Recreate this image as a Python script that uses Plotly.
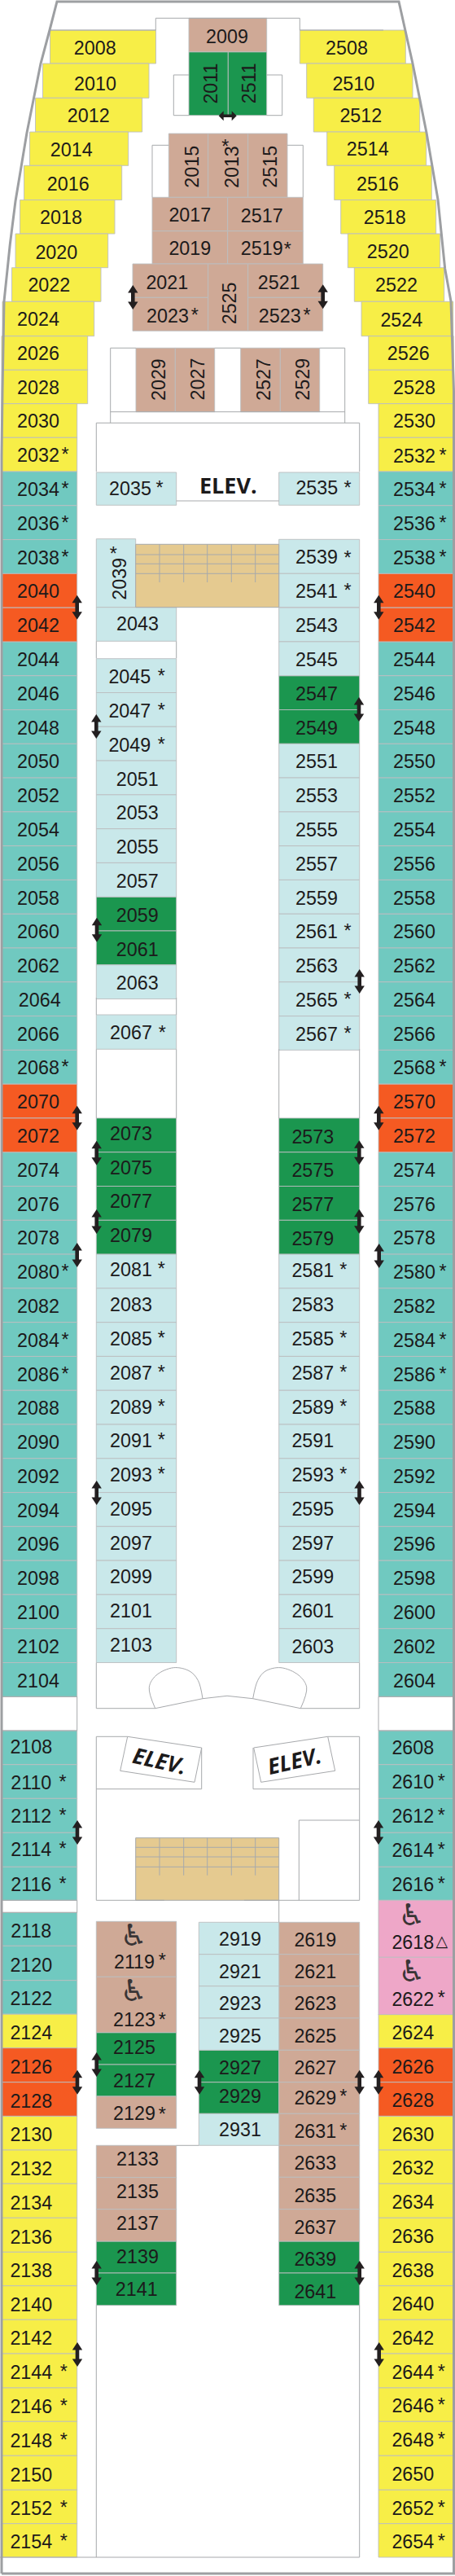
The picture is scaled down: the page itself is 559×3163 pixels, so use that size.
import plotly.graph_objects as go

# ---------- DATA: cabin numbers by fare category ----------
YELLOW = [2008,2010,2012,2014,2016,2018,2020,2022,2024,2026,2028,2030,2032,2124,2130,2132,2134,2136,2138,2140,2142,2144,2146,2148,2150,2152,2154,
          2508,2510,2512,2514,2516,2518,2520,2522,2524,2526,2528,2530,2532,2624,2630,2632,2634,2636,2638,2640,2642,2644,2646,2648,2650,2652,2654]
TEAL = [2034,2036,2038,2044,2046,2048,2050,2052,2054,2056,2058,2060,2062,2064,2066,2068,2074,2076,2078,2080,2082,2084,2086,2088,2090,2092,2094,2096,2098,2100,2102,2104,
        2108,2110,2112,2114,2116,2118,2120,2122,
        2534,2536,2538,2544,2546,2548,2550,2552,2554,2556,2558,2560,2562,2564,2566,2568,2574,2576,2578,2580,2582,2584,2586,2588,2590,2592,2594,2596,2598,2600,2602,2604,
        2608,2610,2612,2614,2616]
ORANGE = [2040,2042,2070,2072,2126,2128,2540,2542,2570,2572,2626,2628]
PINK = [2618,2622]
GREEN = [2011,2511,2059,2061,2073,2075,2077,2079,2125,2127,2139,2141,2547,2549,2573,2575,2577,2579,2927,2929,2639,2641]
TAN = [2009,2013,2015,2515,2017,2517,2019,2519,2021,2023,2521,2523,2525,2027,2029,2527,2529,2119,2123,2129,2133,2135,2137,
       2619,2621,2623,2625,2627,2629,2631,2633,2635,2637]
CYAN = [2035,2039,2043,2045,2047,2049,2051,2053,2055,2057,2063,2067,2081,2083,2085,2087,2089,2091,2093,2095,2097,2099,2101,2103,
        2535,2539,2541,2543,2545,2551,2553,2555,2557,2559,2561,2563,2565,2567,2581,2583,2585,2587,2589,2591,2593,2595,2597,2599,2601,2603,
        2919,2921,2923,2925,2931]
STARRED = [2013,2023,2032,2034,2035,2036,2038,2039,2045,2047,2049,2067,2068,2080,2081,2084,2085,2086,2087,2089,2091,2093,2110,2112,2114,2116,2119,2123,2129,2144,2146,2148,2152,2154,
           2519,2523,2532,2534,2535,2536,2538,2539,2541,2561,2565,2567,2568,2580,2581,2584,2585,2586,2587,2589,2593,2610,2612,2614,2616,2622,2629,2631,2644,2646,2648,2652,2654]
ACCESSIBLE = [2119,2123,2618,2622]
ROTATED = [2011,2511,2013,2015,2515,2525,2027,2029,2527,2529,2039]
COLORS = {"Y":"#f7ee47","T":"#70c9c0","O":"#f55a22","P":"#eea7c8","G":"#1b964f","B":"#cfa996","C":"#c9e8ea"}
INK = "#1c1a1b"
BORDER = "#bbbdbf"
WALL = "#a7a9ac"
HULL = "#9d9fa2"
cat = {}
for k, arr in zip("YTOPGBC", [YELLOW, TEAL, ORANGE, PINK, GREEN, TAN, CYAN]):
    for n in arr:
        cat[n] = k

# ---------- LAYOUT: cell extents and label anchors in page units ----------
cells = {}
def cell(n, x0, x1, y0, y1, tx, ty, sx=None, sy=None):
    cells[n] = dict(x0=x0, x1=x1, y0=y0, y1=y1, tx=tx, ty=ty, sx=sx, sy=sy if sy is not None else ty - 7)

# forward staggered rows, port then starboard
fwd_y = [37,78,120.3,162,203.3,245.5,287,328.7,370.3,412.7,454.3,495.7,537.3,579]
fwd_p = [(2008,61.5,191.5,116.7,60.7),(2010,52.5,183,117,104.7),(2012,43.5,174.7,108.7,144.3),(2014,36.5,157.7,87.7,186),
         (2016,29.5,149.7,83.7,227.7),(2018,24.5,141,75,269.3),(2020,19,132.7,69.3,311.7),(2022,14.5,124,60.3,352.3),
         (2024,3,115.7,47,394.3),(2026,2,107.7,47,436.3),(2028,2,107.7,47,478.3),(2030,2,94.7,47,519.3),(2032,2,94.7,47,561)]
fwd_s = [(2508,368.3,498.3,426,60.7),(2510,376.7,507,434.3,104.7),(2512,385.3,515.7,443.3,144.3),(2514,401.7,523.7,451.7,185.3),
         (2516,410.7,530.3,464,227.7),(2518,418.7,535.7,472.7,269.3),(2520,427.3,540.7,476.7,311.3),(2522,435.3,545.7,487,352.3),
         (2524,444,556.7,493.3,394.7),(2526,452.7,557.3,501.7,436),(2528,452.7,557.3,509,478),(2530,465,557.3,509,519.3),(2532,465,557.3,509,562.3)]
for i, r in enumerate(fwd_p):
    cell(r[0], r[1], r[2], fwd_y[i], fwd_y[i+1], r[3], r[4], 80)
for i, r in enumerate(fwd_s):
    cell(r[0], r[1], r[2], fwd_y[i], fwd_y[i+1], r[3], r[4], 544)

# the regular row grid
E = [579 + 41.786*i for i in range(40)]
OUTER_P = [2034,2036,2038,2040,2042,2044,2046,2048,2050,2052,2054,2056,2058,2060,2062,2064,2066,2068,2070,2072,2074,2076,2078,2080,2082,2084,2086,2088,2090,2092,2094,2096,2098,2100,2102,2104]
OUTER_S = [2534,2536,2538,2540,2542,2544,2546,2548,2550,2552,2554,2556,2558,2560,2562,2564,2566,2568,2570,2572,2574,2576,2578,2580,2582,2584,2586,2588,2590,2592,2594,2596,2598,2600,2602,2604]
for i, n in enumerate(OUTER_P):
    cell(n, 2, 94.7, E[i], E[i+1], 48.7 if n == 2064 else 47, E[i+1]-17.5, 80)
for i, n in enumerate(OUTER_S):
    cell(n, 465, 557.3, E[i], E[i+1], 509, E[i+1]-17.5, 544)

aft_y1 = [2125,2166.7,2208.3,2250.3,2292.3,2333.3]
for i, n in enumerate([2108,2110,2112,2114,2116]):
    cell(n, 2, 94.7, aft_y1[i], aft_y1[i+1], 38.3, [2146.7,2190.7,2231.7,2272.7,2315.7][i], 77)
    m = n + 500
    cell(m, 465, 557.3, aft_y1[i], aft_y1[i+1], 507.3, [2148.3,2190,2232,2273.7,2315.7][i], 542.3)
aft_y2 = [2348.3,2389.3,2431.7,2473,2514.7,2556.7,2598.3,2640,2681.3,2723.3,2765.3,2806.7,2848.3,2890,2932,2973.3,3015.3,3057.3,3098.7,3140]
for i, n in enumerate([2118,2120,2122,2124,2126,2128,2130,2132,2134,2136,2138,2140,2142,2144,2146,2148,2150,2152,2154]):
    cell(n, 2, 94.7, aft_y2[i], aft_y2[i+1], 38.3, aft_y2[i+1]-16.5, 78.3)
cell(2618, 465, 557.3, 2333.3, 2403.3, 507.3, 2386.7)
cell(2622, 465, 557.3, 2403.3, 2473.7, 507.3, 2456.7, 542.3, 2449)
for i, n in enumerate([2624,2626,2628,2630,2632,2634,2636,2638,2640,2642,2644,2646,2648,2650,2652,2654]):
    cell(n, 465, 557.3, aft_y2[i+3], aft_y2[i+4], 507.3, aft_y2[i+4]-16.7, 542.3)

# bow block
cell(2009,232,327.7,22.3,63.7,279,46.7)
cell(2011,232,280.3,63.7,141.7,259.3,102.3)
cell(2511,280.3,327.7,63.7,141.7,306,102.3)
cell(2015,207.3,255.7,164,242.3,235.7,205)
cell(2013,255.7,304.7,164,242.3,285,205,276.7,175.7)
cell(2515,304.7,353,164,242.3,331.7,205)
cell(2017,187,279.7,242.3,283.7,233.3,265.7)
cell(2517,279.7,372.3,242.3,283.7,321.7,266.7)
cell(2019,187,279.7,283.7,324,233.3,306.7)
cell(2519,279.7,372.3,283.7,324,321.7,306.7,353.3,301.7)
cell(2021,163,255.7,324,365.3,205.3,349)
cell(2023,163,255.7,365.3,406.3,206,390,239.3,383)
cell(2525,255.7,304.7,324,406.3,282,372.3)
cell(2521,304.7,396.7,324,365.3,342.7,349)
cell(2523,304.7,396.7,365.3,406.3,343.7,390,377,383)
cell(2029,167,215.3,427.3,505.7,194.3,465.7)
cell(2027,215.3,263.7,427.3,505.7,242.7,465.7)
cell(2527,295.7,344.3,427.3,505.7,323.3,465.7)
cell(2529,344.3,392.7,427.3,505.7,372,465.7)

# inner port column
L0, L1, R0, R1 = 118.3, 216.7, 342.7, 441.7
cell(2035,L0,L1,580,620.3,160,602.3,196,595)
cell(2039,L0,166.7,661.7,745.7,146.7,711,139.3,676)
cell(2043,L0,L1,745.7,787.3,169,768.3)
for i, n in enumerate([2045,2047,2049,2051,2053,2055,2057,2059,2061,2063]):
    cell(n, L0, L1, E[6+i]-21, E[7+i]-21, 159.3 if n < 2051 else 168.7, E[7+i]-21-17, 198.3)
cell(2067,L0,L1,1246,1288.3,161,1270,199.3,1264)
for i, n in enumerate([2073,2075,2077,2079,2081,2083,2085,2087,2089,2091,2093,2095,2097,2099,2101,2103]):
    off = 20.8 if n <= 2081 else 19.3
    cell(n, L0, L1, E[19+i], E[20+i], 161, E[20+i]-off, 198.3)
# inner starboard column
cell(2535,R0,R1,580,620.3,389.3,601.3,427,595)
cell(2539,R0,R1,662.3,704.3,389,686,427,681)
cell(2541,R0,R1,704.3,745.7,389,728.3,427,721)
for i, n in enumerate([2543,2545,2547,2549,2551,2553,2555,2557,2559,2561,2563,2565,2567]):
    cell(n, R0, R1, E[4+i], E[5+i], 389, E[5+i]-17.5, 427)
for i, n in enumerate([2573,2575,2577,2579,2581,2583,2585,2587,2589,2591,2593,2595,2597,2599,2601,2603]):
    off = 17 if n <= 2579 or n == 2603 else 19.3
    cell(n, R0, R1, E[19+i], E[20+i], 384.3, E[20+i]-off, 421.7)
# aft inner blocks
cell(2119,L0,L1,2359.3,2427.3,165,2411,199.3,2403.3)
cell(2123,L0,L1,2427.3,2495.7,165,2481.7,199.3,2476)
cell(2125,L0,L1,2495.7,2535,165,2516)
cell(2127,L0,L1,2535,2574,165,2557.3)
cell(2129,L0,L1,2574,2613.3,165,2597.3,199.3,2591.7)
cell(2133,L0,L1,2634.3,2673.7,169,2653.3)
cell(2135,L0,L1,2673.7,2712.7,169,2693.3)
cell(2137,L0,L1,2712.7,2752,169,2732.3)
cell(2139,L0,L1,2752,2791,169,2773.3)
cell(2141,L0,L1,2791,2830.7,167.7,2812.7)
mid_y = [2360.3,2399.7,2438.7,2478,2517.3,2556.7,2595.3,2634.3]
mid_t = [2383.3,2422.7,2462.3,2501.7,2540.7,2575.7,2616.7]
for i, n in enumerate([2919,2921,2923,2925,2927,2929,2931]):
    cell(n, 244.3, R0, mid_y[i], mid_y[i+1], 295, mid_t[i])
sb_y = mid_y + [2673.3,2712.7,2752,2791,2830.7]
sb_t = [2384.3,2423.3,2462.3,2501.7,2541,2577.7,2619.3,2658.3,2697.7,2736.7,2776,2815.7]
for i, n in enumerate([2619,2621,2623,2625,2627,2629,2631,2633,2635,2637,2639,2641]):
    cell(n, R0, R1, sb_y[i], sb_y[i+1], 387.3, sb_t[i], 421.7, sb_t[i]-7.5)

WHEEL_POS = {2119:(164.3,2380),2123:(164.3,2447.3),2618:(506,2355),2622:(506,2424)}
STAIR_BOXES = [(166.7,342.7,668.3,745.7),(166.7,342.7,2256.7,2333.3)]
STAIR_V = [196,225.7,254.7,284.3,313.7]
STAIR_H = [[681,692.3,704.3],[2268.3,2280,2292.3]]
STAIR_V_END = [715,2302.7]

WALLS = [
 [(61.5,37),(191.3,37),(191.3,22.3),(368.3,22.3),(368.3,37),(471,37)],
 [(232,92),(213.3,92),(213.3,141.7),(232,141.7)],
 [(327.7,92),(346.7,92),(346.7,141.7),(327.7,141.7)],
 [(207.3,178.3),(187,178.3),(187,242.3)],
 [(353,178.3),(372.3,178.3),(372.3,242.3)],
 [(167,427.3),(135.7,427.3),(135.7,519.3)],
 [(392.7,427.3),(423.7,427.3),(423.7,519.3)],
 [(263.7,427.3),(295.7,427.3)],
 [(135.7,505.7),(423.7,505.7)],
 [(L0,579.3),(L0,519.3),(R1,519.3),(R1,579.3)],
 [(216.7,615),(342.7,615)],
 [(L0,787.3),(L0,808.3)],[(L1,787.3),(L1,808.3)],
 [(L0,1225.3),(L0,1246)],[(L1,1225.3),(L1,1246)],
 [(L0,1288.3),(L0,1373)],[(L1,1288.3),(L1,1373)],
 [(R0,1288.3),(R0,1373)],[(R1,1288.3),(R1,1373)],
 [(94.7,2083.3),(94.7,2125),(2,2125)],[(2,2083.3),(94.7,2083.3)],
 [(465,2083.3),(465,2125),(557,2125)],[(465,2083.3),(557,2083.3)],
 [(2,2333.3),(94.7,2333.3),(94.7,2348.3),(2,2348.3)],
 [(L0,2041.7),(L0,2097.7),(190.7,2097.7),(249,2085.7),(279,2082.3),(310.7,2085.7),(369.3,2097.7),(R1,2097.7),(R1,2041.7)],
 [(L0,2333.3),(L0,2132.3),(156.7,2132.3),(247.7,2146),(239,2188.3),(147.7,2174.3),(156.7,2132.3)],
 [(L0,2196.7),(247.7,2196.7),(247.7,2146)],
 [(R1,2333.3),(R1,2132.3),(402.7,2132.3),(411.7,2174.3),(320.7,2188.3),(311.7,2146),(402.7,2132.3)],
 [(R1,2196.7),(311,2196.7),(311,2146)],
 [(367.3,2333.3),(367.3,2235),(R1,2235)],
 [(L0,2333.3),(201.7,2333.3)],[(300,2333.3),(R1,2333.3)],
 [(R0,2333.3),(R0,2360.3)],
 [(L1,2634.3),(244.3,2634.3)],
 [(L0,2830.7),(L0,3140)],[(R1,2830.7),(R1,3140)],
 [(0,3140),(R1,3140)],
]
BUMPS = [
 [(190.7,2097.7),(183.3,2071.7),(192,2057),(213.3,2047.7),(233,2052),(243.3,2063.3),(249,2085.7)],
 [(310.7,2085.7),(316.7,2063.3),(326,2052),(345,2047.7),(367,2057),(376.7,2071.7),(369.3,2097.7)],
]
HULL_PTS = [(2,3160),(2,560),(3,480),(5,370),(12.3,300),(19,247),(33,163),(50,78),(61,37),(70,2),(490,2),(498,37),(507,78),(524,163),(538,245),(546.7,330),(554,370),(557.5,480),(557.5,3160),(2,3160)]
V_ARROWS = [(163.3,365),(396.7,364.3),(94.7,745.7),(465.3,745.7),(119,1141.7),(118.3,892),(441,871),(441.7,1205),
            (94.7,1372.7),(465.3,1372.7),(118.7,1415.7),(118.7,1500),(441.3,1415.3),(441.3,1499.7),(94.7,1541),(465.7,1542),
            (118.7,1833),(441.5,1833),(95,2250),(465,2250),(118.7,2535),(95,2556.7),(245,2556.7),(441.7,2556.7),(465,2556.7),
            (118.7,2791),(441.7,2791),(95,2891),(465.7,2891)]
H_ARROWS = [(279.7,142.3)]

def poly(pts_list):
    xs, ys = [], []
    for pts in pts_list:
        xs += [p[0] for p in pts] + [None]
        ys += [p[1] for p in pts] + [None]
    return xs, ys

fig = go.Figure()

# cabin rectangles as bars on the numeric axes
for k in "YTOPGBC":
    ns = [n for n in cells if cat[n] == k]
    fig.add_bar(x=[(cells[n]["x0"]+cells[n]["x1"])/2 for n in ns],
                width=[cells[n]["x1"]-cells[n]["x0"] for n in ns],
                base=[cells[n]["y0"] for n in ns],
                y=[cells[n]["y1"]-cells[n]["y0"] for n in ns],
                marker=dict(color=COLORS[k], line=dict(color=BORDER, width=0.9)),
                hoverinfo="skip", showlegend=False)
# stair wells
fig.add_bar(x=[(b[0]+b[1])/2 for b in STAIR_BOXES], width=[b[1]-b[0] for b in STAIR_BOXES],
            base=[b[2] for b in STAIR_BOXES], y=[b[3]-b[2] for b in STAIR_BOXES],
            marker=dict(color="#e5ca90", line=dict(color=WALL, width=1)), hoverinfo="skip", showlegend=False)
stair_lines = []
for b, hs, ve in zip(STAIR_BOXES, STAIR_H, STAIR_V_END):
    for h in hs:
        stair_lines.append([(b[0], h), (b[1], h)])
    for v in STAIR_V:
        stair_lines.append([(v, b[2]), (v, ve)])
sx, sy = poly(stair_lines)
fig.add_scatter(x=sx, y=sy, mode="lines", line=dict(color=WALL, width=1), hoverinfo="skip", showlegend=False)

wx, wy = poly(WALLS)
fig.add_scatter(x=wx, y=wy, mode="lines", line=dict(color=WALL, width=1), hoverinfo="skip", showlegend=False)
for b in BUMPS:
    fig.add_scatter(x=[p[0] for p in b], y=[p[1] for p in b], mode="lines",
                    line=dict(color=WALL, width=1, shape="spline"), hoverinfo="skip", showlegend=False)
fig.add_scatter(x=[p[0] for p in HULL_PTS], y=[p[1] for p in HULL_PTS], mode="lines",
                line=dict(color=HULL, width=3), hoverinfo="skip", showlegend=False)

# double arrows
HL, HW, SW, HEAD = 15, 6.2, 2.3, 9.5
arrows = []
for cx, cy in V_ARROWS:
    arrows.append([(cx,cy-HL),(cx+HW,cy-HL+HEAD),(cx+SW,cy-HL+HEAD),(cx+SW,cy+HL-HEAD),(cx+HW,cy+HL-HEAD),(cx,cy+HL),
                   (cx-HW,cy+HL-HEAD),(cx-SW,cy+HL-HEAD),(cx-SW,cy-HL+HEAD),(cx-HW,cy-HL+HEAD),(cx,cy-HL)])
for cx, cy in H_ARROWS:
    L, H = 11, 6
    arrows.append([(cx-L,cy),(cx-L+6,cy-H),(cx-L+6,cy-1.8),(cx+L-6,cy-1.8),(cx+L-6,cy-H),(cx+L,cy),
                   (cx+L-6,cy+H),(cx+L-6,cy+1.8),(cx-L+6,cy+1.8),(cx-L+6,cy+H),(cx-L,cy)])
ax, ay = poly(arrows)
fig.add_scatter(x=ax, y=ay, mode="lines", fill="toself", fillcolor="#231f20", line=dict(width=0, color="#231f20"),
                hoverinfo="skip", showlegend=False)

# labels
FONT = "Liberation Sans"
FS = 23.3
plain = [n for n in cells if n not in ROTATED]
fig.add_scatter(x=[cells[n]["tx"] for n in plain], y=[cells[n]["ty"] for n in plain], text=[str(n) for n in plain],
                mode="text", textposition="middle center", textfont=dict(family=FONT, size=FS, color=INK),
                hoverinfo="skip", showlegend=False)
stars = [n for n in STARRED if n in cells]
STAR_DROP = 6
fig.add_scatter(x=[cells[n]["sx"] for n in stars], y=[cells[n]["sy"]+STAR_DROP for n in stars], text=["*"]*len(stars),
                mode="text", textposition="middle center", textfont=dict(family=FONT, size=FS, color=INK),
                hoverinfo="skip", showlegend=False)
fig.add_scatter(x=[WHEEL_POS[n][0] for n in ACCESSIBLE], y=[WHEEL_POS[n][1] for n in ACCESSIBLE], text=["\u267f"]*4,
                mode="text", textposition="middle center", textfont=dict(family="DejaVu Sans", size=37, color="#3a3536"),
                hoverinfo="skip", showlegend=False)
fig.add_scatter(x=[542.7], y=[2385], text=["\u25b3"], mode="text", textposition="middle center",
                textfont=dict(family="DejaVu Sans", size=19, color=INK), hoverinfo="skip", showlegend=False)
fig.add_scatter(x=[280.3], y=[599], text=["<b>ELEV.</b>"], mode="text", textposition="middle center",
                textfont=dict(family="Open Sans", size=27, color=INK), hoverinfo="skip", showlegend=False)

annots = []
for n in ROTATED:
    c = cells[n]
    annots.append(dict(x=c["tx"], y=c["ty"], xref="x", yref="y", text=str(n), showarrow=False, textangle=-90,
                       xanchor="center", yanchor="middle", font=dict(family=FONT, size=FS, color=INK)))
for x, y, a in [(196.7,2161,13),(361.7,2161,-13)]:
    annots.append(dict(x=x, y=y, xref="x", yref="y", text="<b><i>ELEV.</i></b>", showarrow=False, textangle=a,
                       xanchor="center", yanchor="middle", font=dict(family="Open Sans", size=27, color=INK)))

fig.update_layout(width=559, height=3163, margin=dict(l=0, r=0, t=0, b=0), barmode="overlay",
                  paper_bgcolor="white", plot_bgcolor="white", showlegend=False, annotations=annots,
                  xaxis=dict(range=[0,559], visible=False, fixedrange=True),
                  yaxis=dict(range=[3163,0], visible=False, fixedrange=True))
fig.write_html("out.html", config=dict(displayModeBar=False, responsive=False),
               post_script="document.body.style.margin='0';document.documentElement.style.overflow='hidden';")
